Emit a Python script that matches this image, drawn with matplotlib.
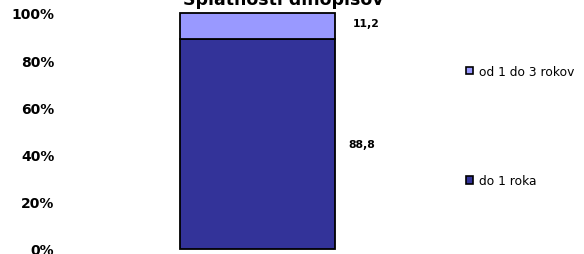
import matplotlib.pyplot as plt
from matplotlib.patches import Patch

# splatnosti dlhopisov (percentá)
kategorie = ['']
do_1_roka = [88.8]
od_1_do_3 = [11.2]
serie_nazvy = ['do 1 roka', 'od 1 do 3 rokov']
farby = ['#333399', '#9999ff']
y_ticky = [0, 20, 40, 60, 80, 100]

W, H = 584, 255
fig = plt.figure(figsize=(W / 100, H / 100), dpi=100)
# osi v pixeloch: x 60..455, y 250..14 (od vrchu)
ax = fig.add_axes([60 / W, (H - 250) / H, (455 - 60) / W, (250 - 14) / H])

x = list(range(len(kategorie)))
ax.bar(x, do_1_roka, width=0.39, color=farby[0], edgecolor='black', linewidth=1.3, clip_on=False)
ax.bar(x, od_1_do_3, width=0.39, bottom=do_1_roka, color=farby[1], edgecolor='black',
       linewidth=1.3, clip_on=False)

for i in x:
    ax.annotate('{:.1f}'.format(do_1_roka[i]).replace('.', ','), xy=(i + 0.195, do_1_roka[i] / 2),
                xytext=(14, 0), textcoords='offset pixels', va='center', ha='left',
                fontsize=7.8, fontweight='bold')
    ax.annotate('{:.1f}'.format(od_1_do_3[i]).replace('.', ','),
                xy=(i + 0.195, do_1_roka[i] + od_1_do_3[i] / 2),
                xytext=(18, 3), textcoords='offset pixels', va='center', ha='left',
                fontsize=7.8, fontweight='bold')

ax.set_xlim(-0.5, 0.5)
ax.set_ylim(0, 100)
ax.set_xticks([])
ax.set_yticks(y_ticky)
ax.set_yticklabels(['{}%'.format(t) for t in y_ticky], fontsize=10, fontweight='bold')
ax.tick_params(axis='y', length=0, pad=4)
for s in ax.spines.values():
    s.set_visible(False)

fig.text(283 / W, 1.0, 'Splatnosti dlhopisov', ha='center', va='center',
         fontsize=12.5, fontweight='bold')

handles = [Patch(facecolor=farby[1], edgecolor='black', linewidth=1.2),
           Patch(facecolor=farby[0], edgecolor='black', linewidth=1.2)]
fig.legend(handles, [serie_nazvy[1], serie_nazvy[0]], loc='center left',
           bbox_to_anchor=(455 / W, (H - 127) / H), frameon=False, fontsize=8.8,
           handlelength=0.6, handleheight=0.6, handletextpad=0.45, labelspacing=7.9)

fig.savefig('out.png', dpi=100)
